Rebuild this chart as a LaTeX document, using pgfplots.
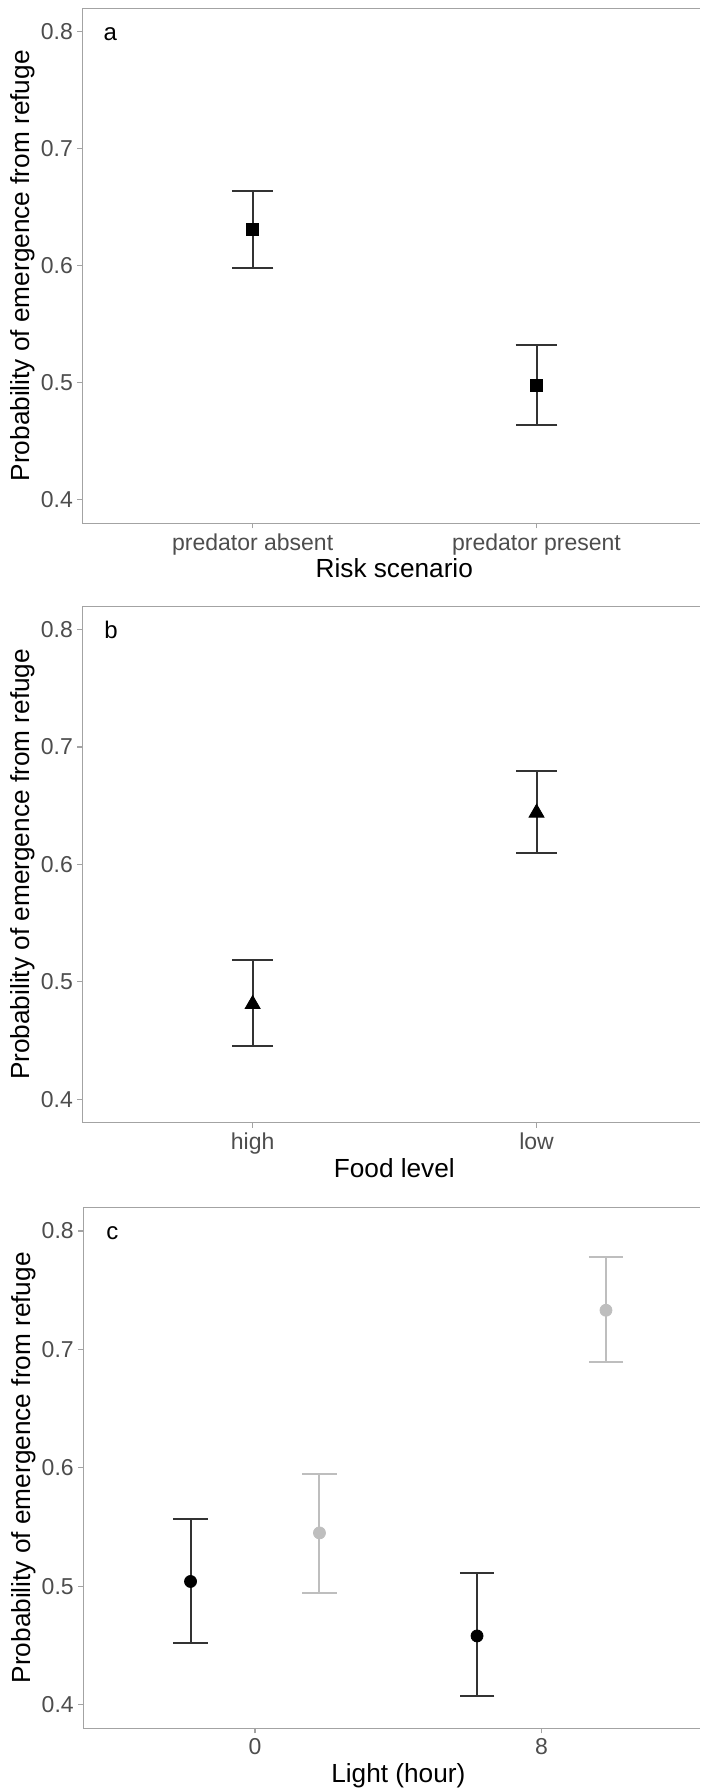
\documentclass[border=0pt]{standalone}
\usepackage{pgfplots}
\pgfplotsset{compat=1.18}
\usepackage{fontspec}
\setmainfont{Liberation Sans}
\definecolor{framegray}{HTML}{A3A3A3}
\definecolor{tickgray}{HTML}{4D4D4D}
\definecolor{ebar}{HTML}{333333}
\definecolor{ptgray}{HTML}{BEBEBE}
\pgfplotsset{
 panel/.style={
  scale only axis, anchor=south west,
  ymin=0.38, ymax=0.82, xmin=-0.6,
  axis x line=box, axis y line=left,
  ytick={0.4,0.5,0.6,0.7,0.8}, yticklabels={0.4,0.5,0.6,0.7,0.8},
  xtick={0,1},
  tick align=outside, xtick pos=left, ytick pos=left,
  major tick length=2.5pt,
  tick style={draw=framegray, line width=0.6pt},
  axis line style={-, draw=framegray, line width=0.6pt},
  tick label style={font=\fontsize{11.5}{13}\selectfont, text=tickgray},
  label style={font=\fontsize{13.1}{15}\selectfont, text=black},
  xticklabel style={inner sep=0pt, anchor=north, yshift=-2.5pt},
  yticklabel style={inner sep=0pt, anchor=east, xshift=-2pt},
  xlabel style={anchor=north, inner sep=0pt, yshift=-17.5pt},
  ylabel style={anchor=center, inner sep=0pt, rotate=0},
  ylabel={Probability of emergence from refuge},
 },
}
\begin{document}
\begin{tikzpicture}
\path (0,0) rectangle (350.5pt,-895.5pt);
% panel a
\begin{axis}[panel, at={(41.15pt,-261.65pt)}, width=308.85pt, height=257.5pt, xmax=1.5758,
  xticklabels={predator absent, predator present}, xlabel={Risk scenario},
  xlabel style={at={(axis description cs:0.5051,0)}},
  ylabel style={at={(axis description cs:-0.0960,0.5)}}]
\addplot[only marks, mark=square*, mark size=3pt, color=black,
  error bars/.cd, y dir=both, y explicit,
  error bar style={line width=1pt, draw=ebar},
  error mark options={rotate=90, mark size=10.4pt, line width=1pt, draw=ebar}]
  table[x=x, y=y, y error plus=ep, y error minus=em] {
x y ep em
0 0.631 0.033 0.0325
1 0.498 0.034 0.034
};
\node[anchor=base west, inner sep=0pt, xshift=10.5pt, yshift=-16.3pt, font=\fontsize{12}{14}\selectfont] at (rel axis cs:0,1) {a};
\end{axis}
% panel b
\begin{axis}[panel, at={(41.15pt,-561.35pt)}, width=308.85pt, height=258.25pt, xmax=1.5758,
  xticklabels={high, low}, xlabel={Food level},
  xlabel style={at={(axis description cs:0.5051,0)}},
  ylabel style={at={(axis description cs:-0.0960,0.5)}}]
\addplot[only marks, mark=triangle*, mark size=4.3pt, color=black,
  error bars/.cd, y dir=both, y explicit,
  error bar style={line width=1pt, draw=ebar},
  error mark options={rotate=90, mark size=10.2pt, line width=1pt, draw=ebar}]
  table[x=x, y=y, y error plus=ep, y error minus=em] {
x y ep em
0 0.481 0.0376 0.0357
1 0.644 0.0358 0.0342
};
\node[anchor=base west, inner sep=0pt, xshift=10.8pt, yshift=-16.3pt, font=\fontsize{12}{14}\selectfont] at (rel axis cs:0,1) {b};
\end{axis}
% panel c
\begin{axis}[panel, at={(41.55pt,-864.15pt)}, width=308.45pt, height=260.55pt, xmax=1.5532,
  xticklabels={0, 8}, xlabel={Light (hour)},
  xlabel style={at={(axis description cs:0.511,0)}},
  ylabel style={at={(axis description cs:-0.0966,0.5)}}]
\addplot[only marks, mark=*, mark size=3pt, color=black,
  error bars/.cd, y dir=both, y explicit,
  error bar style={line width=1pt, draw=ebar},
  error mark options={rotate=90, mark size=8.6pt, line width=1pt, draw=ebar}]
  table[x=x, y=y, y error plus=ep, y error minus=em] {
x y ep em
-0.225 0.504 0.053 0.052
0.775 0.458 0.053 0.051
};
\addplot[only marks, mark=*, mark size=3pt, color=ptgray,
  error bars/.cd, y dir=both, y explicit,
  error bar style={line width=1pt, draw=ptgray},
  error mark options={rotate=90, mark size=8.6pt, line width=1pt, draw=ptgray}]
  table[x=x, y=y, y error plus=ep, y error minus=em] {
x y ep em
0.225 0.545 0.050 0.051
1.225 0.733 0.045 0.044
};
\node[anchor=base west, inner sep=0pt, xshift=11.4pt, yshift=-16.3pt, font=\fontsize{12}{14}\selectfont] at (rel axis cs:0,1) {c};
\end{axis}
\end{tikzpicture}
\end{document}
